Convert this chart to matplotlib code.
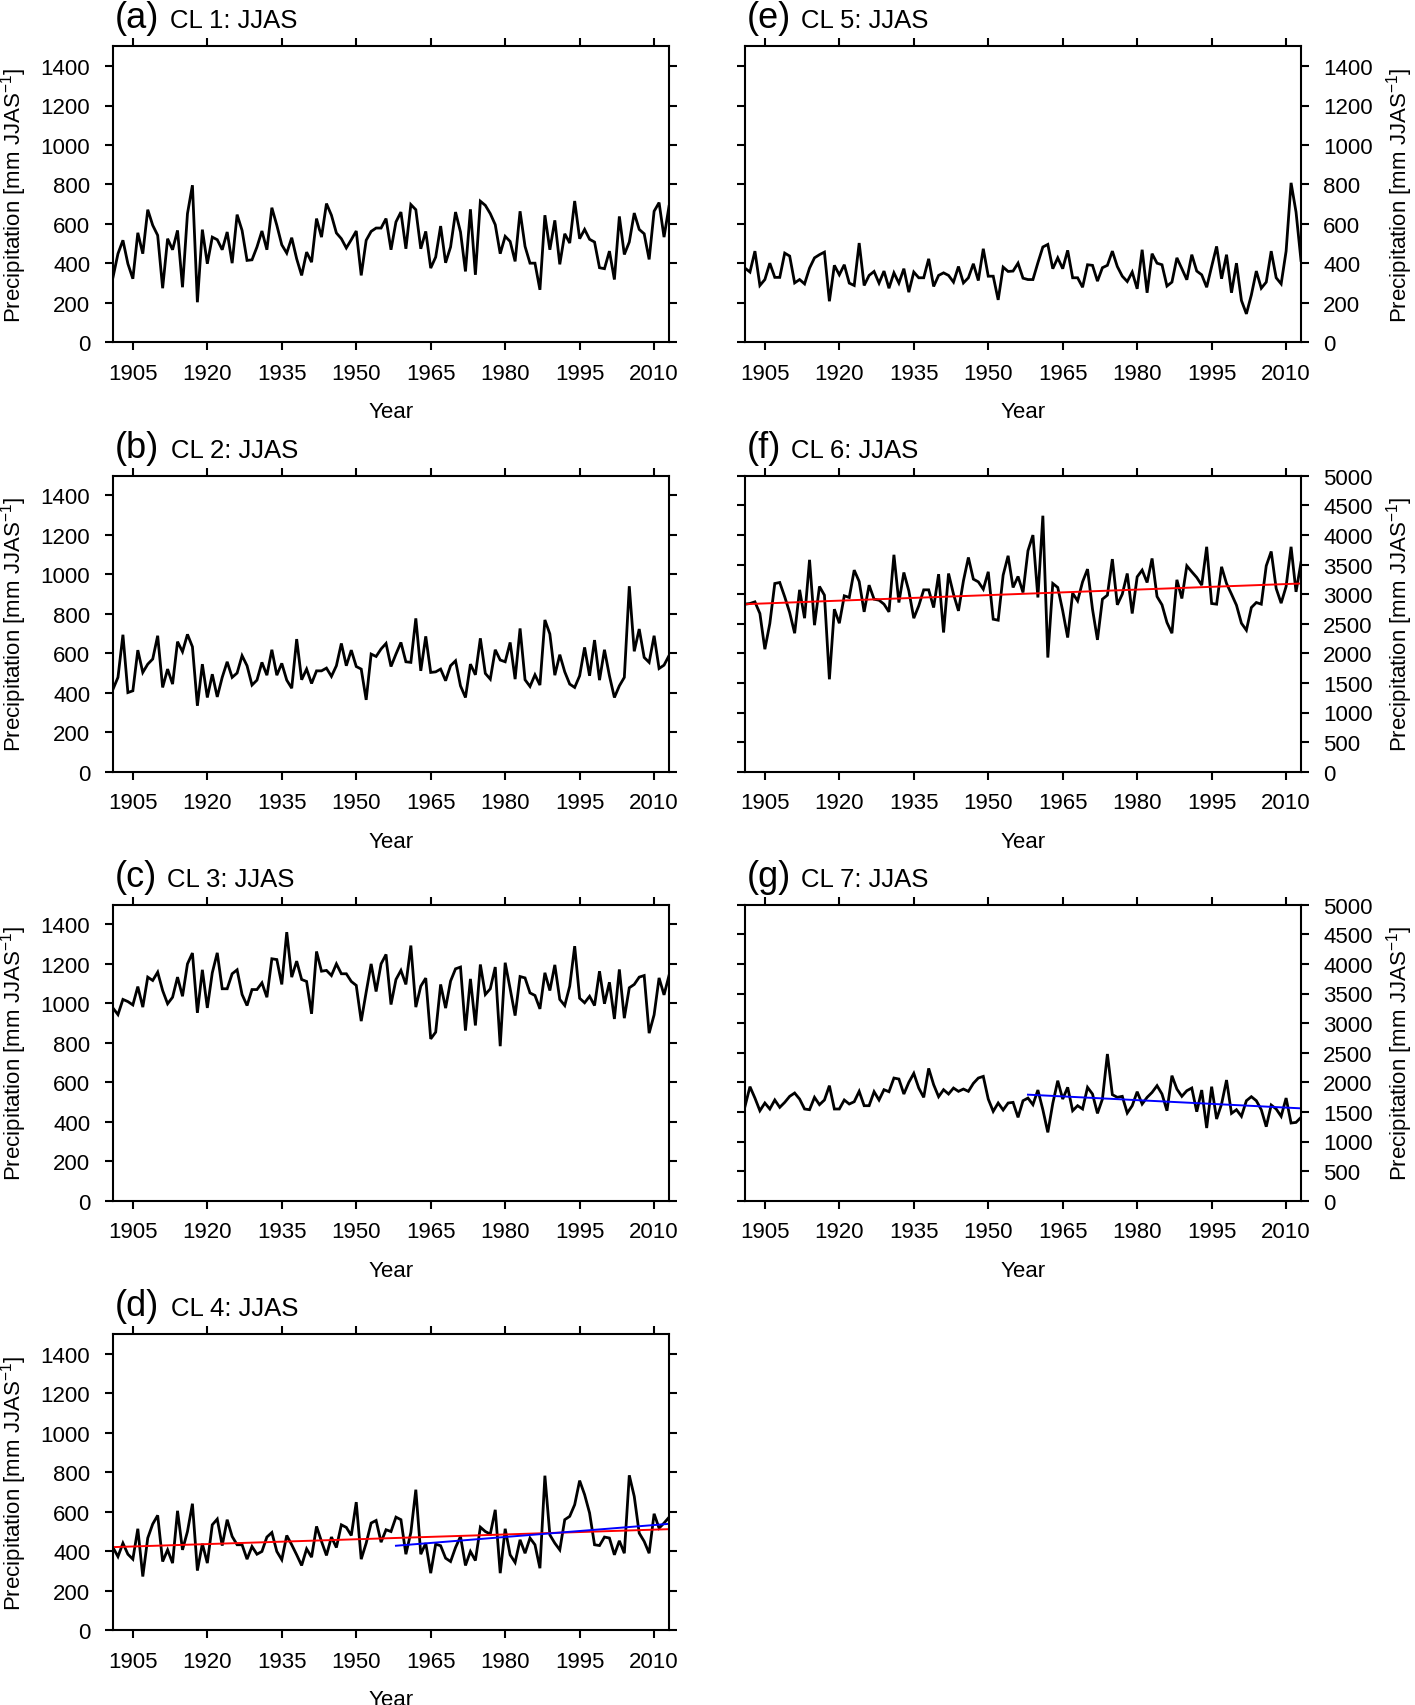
import numpy as np
import matplotlib
matplotlib.use("Agg")
import matplotlib.pyplot as plt

plt.rcParams['font.family'] = ['Liberation Sans', 'DejaVu Sans']
plt.rcParams['mathtext.fontset'] = 'custom'
plt.rcParams['mathtext.rm'] = 'Liberation Sans'
plt.rcParams['mathtext.it'] = 'Liberation Sans'

# ---------------- data ----------------
year_first, year_last = 1901, 2013
years = np.arange(year_first, year_last + 1)

cl1 = [330, 449, 517, 398, 322, 555, 449, 672, 593, 542, 274, 525, 469, 567, 279, 652, 796, 203, 571, 398,
       533, 520, 469, 559, 401, 647, 567, 415, 418, 483, 564, 469, 682, 593, 494, 452, 530, 423, 339, 457,
       406, 627, 533, 703, 644, 554, 525, 478, 520, 564, 339, 517, 562, 579, 579, 627, 469, 610, 660, 474,
       698, 672, 474, 562, 376, 432, 589, 403, 483, 660, 559, 359, 674, 342, 715, 694, 652, 596, 449, 537,
       511, 410, 664, 486, 401, 401, 266, 644, 469, 618, 395, 550, 503, 716, 525, 572, 522, 508, 378, 373,
       462, 318, 638, 445, 508, 655, 572, 550, 420, 664, 708, 533, 689]

cl2 = [418, 478, 694, 401, 410, 616, 503, 545, 571, 689, 427, 520, 444, 659, 608, 696, 633, 334, 545, 376,
       494, 379, 478, 557, 478, 500, 588, 537, 439, 464, 554, 489, 618, 489, 549, 464, 423, 672, 466, 520,
       447, 511, 511, 525, 483, 537, 650, 537, 616, 533, 520, 364, 596, 584, 622, 650, 533, 596, 655, 557,
       554, 777, 511, 686, 503, 506, 520, 461, 537, 562, 435, 376, 545, 491, 676, 498, 469, 618, 566, 557,
       655, 469, 726, 466, 432, 491, 439, 769, 698, 489, 593, 506, 444, 427, 486, 630, 486, 667, 464, 618,
       486, 376, 435, 478, 940, 610, 723, 579, 554, 689, 523, 540, 588]

cl3 = [976, 943, 1020, 1009, 992, 1085, 981, 1133, 1116, 1158, 1065, 998, 1031, 1133, 1036, 1200, 1255, 952, 1170, 977,
       1155, 1256, 1074, 1074, 1150, 1170, 1045, 989, 1070, 1070, 1104, 1031, 1226, 1222, 1096, 1361, 1133, 1214, 1121, 1111,
       947, 1263, 1163, 1167, 1141, 1200, 1150, 1150, 1111, 1091, 910, 1057, 1200, 1060, 1200, 1248, 994, 1121, 1167, 1096,
       1293, 981, 1087, 1128, 820, 854, 1096, 976, 1113, 1175, 1184, 862, 1124, 888, 1197, 1045, 1074, 1184, 783, 1206,
       1074, 938, 1136, 1129, 1053, 1040, 972, 1155, 1065, 1195, 1020, 989, 1087, 1290, 1026, 1003, 1036, 989, 1163, 998,
       1107, 921, 1172, 925, 1079, 1096, 1133, 1141, 849, 942, 1129, 1043, 1141]

cl4 = [418, 372, 440, 384, 359, 513, 271, 466, 537, 581, 347, 406, 339, 604, 406, 499, 640, 301, 437, 339,
       533, 562, 428, 559, 474, 432, 432, 359, 423, 384, 398, 471, 494, 398, 356, 479, 432, 381, 327, 411,
       369, 525, 449, 378, 471, 418, 533, 520, 479, 648, 359, 440, 542, 555, 445, 508, 499, 572, 559, 384,
       494, 711, 384, 440, 288, 435, 427, 364, 347, 418, 474, 327, 398, 352, 521, 499, 486, 609, 288, 513,
       381, 342, 457, 389, 466, 432, 313, 782, 482, 440, 406, 559, 576, 635, 757, 686, 593, 432, 428, 471,
       466, 381, 452, 389, 784, 677, 491, 449, 389, 589, 516, 542, 571]

cl5 = [376, 356, 462, 288, 318, 401, 329, 329, 452, 437, 301, 318, 296, 376, 428, 444, 457, 208, 390, 342,
       393, 300, 288, 503, 288, 339, 359, 300, 361, 274, 352, 300, 373, 254, 356, 327, 327, 423, 283, 339,
       352, 339, 305, 384, 301, 327, 398, 313, 474, 335, 335, 215, 381, 359, 361, 401, 325, 318, 318, 403,
       483, 496, 373, 428, 373, 466, 327, 327, 279, 393, 390, 310, 378, 390, 462, 384, 335, 308, 356, 271,
       469, 251, 449, 401, 393, 285, 305, 428, 373, 317, 444, 361, 342, 279, 384, 486, 322, 444, 251, 401,
       212, 144, 240, 361, 274, 305, 462, 327, 296, 462, 808, 660, 415]

cl6 = [2830, 2841, 2869, 2672, 2069, 2503, 3179, 3196, 2954, 2689, 2339, 3072, 2593, 3579, 2475, 3129, 2982, 1561, 2745, 2508,
       2971, 2943, 3405, 3213, 2700, 3151, 2914, 2897, 2830, 2700, 3664, 2858, 3365, 3055, 2593, 2802, 3072, 3072, 2773, 3337,
       2351, 3348, 2999, 2717, 3224, 3619, 3253, 3207, 3083, 3377, 2576, 2559, 3320, 3647, 3112, 3298, 3027, 3732, 3997, 2943,
       4324, 1928, 3179, 3112, 2717, 2266, 3016, 2886, 3207, 3422, 2745, 2227, 2914, 2982, 3591, 2819, 2999, 3348, 2672, 3292,
       3405, 3196, 3602, 2959, 2819, 2520, 2339, 3241, 2926, 3478, 3377, 3281, 3151, 3799, 2841, 2830, 3461, 3179, 2999, 2813,
       2508, 2390, 2773, 2858, 2830, 3478, 3720, 3095, 2847, 3129, 3799, 3038, 3534]

cl7 = [1594, 1926, 1734, 1520, 1650, 1549, 1701, 1577, 1661, 1763, 1819, 1717, 1549, 1537, 1746, 1622, 1701, 1943, 1549, 1549,
       1701, 1633, 1672, 1847, 1605, 1605, 1841, 1701, 1875, 1841, 2072, 2055, 1802, 1999, 2151, 1903, 1746, 2235, 1960, 1757,
       1875, 1802, 1903, 1847, 1886, 1847, 1982, 2072, 2100, 1717, 1509, 1650, 1532, 1650, 1661, 1408, 1689, 1734, 1622, 1869,
       1537, 1154, 1644, 2027, 1717, 1915, 1520, 1605, 1549, 1915, 1802, 1475, 1717, 2478, 1791, 1746, 1763, 1481, 1605, 1841,
       1633, 1746, 1830, 1943, 1802, 1520, 2112, 1886, 1763, 1858, 1903, 1503, 1869, 1228, 1926, 1380, 1633, 2038, 1475, 1537,
       1425, 1689, 1757, 1689, 1537, 1250, 1616, 1549, 1425, 1734, 1312, 1323, 1408]

# trend lines (start/end years and values)
trend_full_years = [1901, 2013]
trend_late_years = [1958, 2013]
trend_cl4_full = [420, 511]
trend_cl4_late = [427, 538]
trend_cl6_full = [2830, 3179]
trend_cl7_late = [1791, 1560]

x_ticks = [1905, 1920, 1935, 1950, 1965, 1980, 1995, 2010]
y_ticks_small = [0, 200, 400, 600, 800, 1000, 1200, 1400]
y_ticks_large = [0, 500, 1000, 1500, 2000, 2500, 3000, 3500, 4000, 4500, 5000]

letters = ['(a)', '(b)', '(c)', '(d)', '(e)', '(f)', '(g)']
titles = ['CL 1: JJAS', 'CL 2: JJAS', 'CL 3: JJAS', 'CL 4: JJAS', 'CL 5: JJAS', 'CL 6: JJAS', 'CL 7: JJAS']
series = [cl1, cl2, cl3, cl4, cl5, cl6, cl7]
ylabel = 'Precipitation [mm JJAS$^{-1}$]'

# ---------------- layout ----------------
W, H = 1415, 1706
fig = plt.figure(figsize=(W / 100, H / 100), dpi=100)

col_left = [113, 745]
ax_w = 556
ax_h = 296
row_top = [47.3, 476.7, 905.7, 1335]

panel_pos = [(0, 0), (0, 1), (0, 2), (0, 3), (1, 0), (1, 1), (1, 2)]
title_dx = [0.099, 0.100, 0.094, 0.100, 0.097, 0.078, 0.097]

TS = 16
for i, (col, row) in enumerate(panel_pos):
    l = col_left[col] / W
    b = 1 - (row_top[row] + ax_h) / H
    ax = fig.add_axes([l, b, ax_w / W, ax_h / H])
    ax.plot(years, series[i], color='black', lw=2.0, solid_joinstyle='miter')
    ax.set_xlim(year_first, year_last)
    ax.set_xticks(x_ticks)
    if i in (5, 6):
        ax.set_ylim(0, 5000)
        ax.set_yticks(y_ticks_large)
    else:
        ax.set_ylim(0, 1500)
        ax.set_yticks(y_ticks_small)

    if i == 3:
        ax.plot(trend_full_years, trend_cl4_full, color='red', lw=1.4)
        ax.plot(trend_late_years, trend_cl4_late, color='blue', lw=1.4)
    if i == 5:
        ax.plot(trend_full_years, trend_cl6_full, color='red', lw=1.4)
    if i == 6:
        ax.plot(trend_late_years, trend_cl7_late, color='blue', lw=1.4)

    for s in ax.spines.values():
        s.set_linewidth(1.5)
    ax.tick_params(axis='both', which='both', direction='out', length=5.8, width=1.5,
                   top=True, right=True, left=True, bottom=True, labelsize=TS)
    ax.tick_params(axis='x', pad=9)
    if col == 0:
        ax.tick_params(axis='y', labelleft=True, labelright=False, pad=10.5)
        ax.text(-0.178, 0.5, ylabel, transform=ax.transAxes, rotation=90,
                ha='center', va='center', fontsize=TS)
    else:
        ax.tick_params(axis='y', labelleft=False, labelright=True, pad=10.3)
        ax.text(1.178, 0.5, ylabel, transform=ax.transAxes, rotation=90,
                ha='center', va='center', fontsize=TS)

    ax.text(0.5, -0.253, 'Year', transform=ax.transAxes, ha='center', va='baseline', fontsize=TS)
    ax.text(0.004, 1 + 19 / ax_h, letters[i], transform=ax.transAxes, ha='left', va='baseline', fontsize=26)
    ax.text(title_dx[i] + 0.004, 1 + 19 / ax_h, titles[i], transform=ax.transAxes, ha='left', va='baseline', fontsize=18.5)

fig.savefig('out.png', dpi=100)
